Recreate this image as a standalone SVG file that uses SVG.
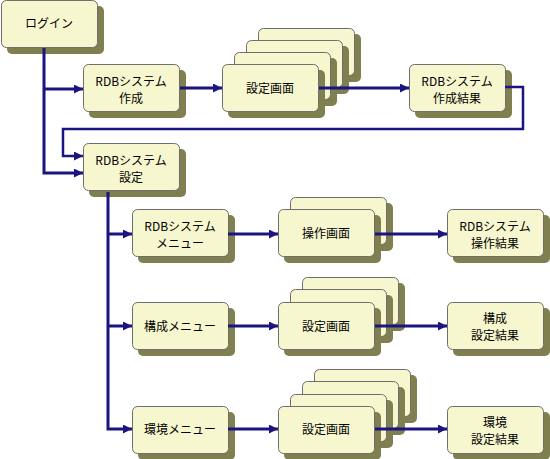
<svg xmlns="http://www.w3.org/2000/svg" width="550" height="459" viewBox="0 0 550 459">
<style>
.sh{fill:#7f7f4f}
.bx{fill:#f7f7cf;stroke:#6e6e6e;stroke-width:1}
.t{font-family:"Noto Sans CJK JP","Noto Sans",sans-serif;font-size:12px;fill:#000;text-anchor:middle}
.c{fill:none;stroke:#1c1480;stroke-width:3}
.c2{fill:none;stroke:#1c1480;stroke-width:2.5}
</style>
<defs>
<marker id="ah" markerUnits="userSpaceOnUse" markerWidth="10" markerHeight="10" refX="9" refY="4.5" orient="auto">
<path d="M0,0 L9,4.5 L0,9 Z" fill="#1c1480"/>
</marker>
<g id="card">
<rect class="sh" x="6" y="6" width="97" height="48" rx="5"/>
<rect class="bx" x="0.5" y="0.5" width="96" height="47" rx="5"/>
</g>
</defs>
<rect width="550" height="459" fill="#fff"/>
<g id="login">
<use href="#card" x="1" y="0"/>
<text class="t" x="49" y="28">ログイン</text>
</g>
<g id="create">
<use href="#card" x="83" y="64"/>
<text class="t" x="131" y="86">RDBシステム</text>
<text class="t" x="131" y="103">作成</text>
</g>
<g id="setscreen1">
<use href="#card" x="258" y="28"/>
<use href="#card" x="246" y="40"/>
<use href="#card" x="234" y="52"/>
<use href="#card" x="222" y="64"/>
<text class="t" x="270" y="93">設定画面</text>
</g>
<g id="createresult">
<use href="#card" x="409" y="64"/>
<text class="t" x="457" y="86">RDBシステム</text>
<text class="t" x="457" y="103">作成結果</text>
</g>
<g id="setting">
<use href="#card" x="83" y="143"/>
<text class="t" x="131" y="165">RDBシステム</text>
<text class="t" x="131" y="182">設定</text>
</g>
<g id="menu1">
<use href="#card" x="132" y="209"/>
<text class="t" x="180" y="231">RDBシステム</text>
<text class="t" x="180" y="248">メニュー</text>
</g>
<g id="opscreen">
<use href="#card" x="290" y="197"/>
<use href="#card" x="278" y="209"/>
<text class="t" x="326" y="238">操作画面</text>
</g>
<g id="opresult">
<use href="#card" x="447" y="209"/>
<text class="t" x="495" y="231">RDBシステム</text>
<text class="t" x="495" y="248">操作結果</text>
</g>
<g id="menu2">
<use href="#card" x="132" y="302"/>
<text class="t" x="180" y="331">構成メニュー</text>
</g>
<g id="setscreen2">
<use href="#card" x="302" y="277"/>
<use href="#card" x="290" y="289"/>
<use href="#card" x="278" y="302"/>
<text class="t" x="326" y="331">設定画面</text>
</g>
<g id="result2">
<use href="#card" x="447" y="302"/>
<text class="t" x="495" y="323">構成</text>
<text class="t" x="495" y="340">設定結果</text>
</g>
<g id="menu3">
<use href="#card" x="132" y="406"/>
<text class="t" x="180" y="434">環境メニュー</text>
</g>
<g id="setscreen3">
<use href="#card" x="314" y="369"/>
<use href="#card" x="302" y="381"/>
<use href="#card" x="290" y="394"/>
<use href="#card" x="278" y="406"/>
<text class="t" x="326" y="434">設定画面</text>
</g>
<g id="result3">
<use href="#card" x="447" y="406"/>
<text class="t" x="495" y="427">環境</text>
<text class="t" x="495" y="444">設定結果</text>
</g>
<g id="connectors">
<path class="c" d="M44,48 V173 H83" marker-end="url(#ah)"/>
<path class="c" d="M44,89 H83" marker-end="url(#ah)"/>
<path class="c" d="M180,88 H222" marker-end="url(#ah)"/>
<path class="c" d="M319,88 H409" marker-end="url(#ah)"/>
<path class="c2" d="M505,87 H523 V129 H63 V156 H83" marker-end="url(#ah)"/>
<path class="c" d="M108,192 V429 H132" marker-end="url(#ah)"/>
<path class="c" d="M108,234 H132" marker-end="url(#ah)"/>
<path class="c" d="M108,326 H132" marker-end="url(#ah)"/>
<path class="c" d="M228,234 H278" marker-end="url(#ah)"/>
<path class="c" d="M375,234 H447" marker-end="url(#ah)"/>
<path class="c" d="M228,326 H278" marker-end="url(#ah)"/>
<path class="c" d="M375,326 H447" marker-end="url(#ah)"/>
<path class="c" d="M228,429 H278" marker-end="url(#ah)"/>
<path class="c" d="M375,429 H447" marker-end="url(#ah)"/>
</g>
</svg>
